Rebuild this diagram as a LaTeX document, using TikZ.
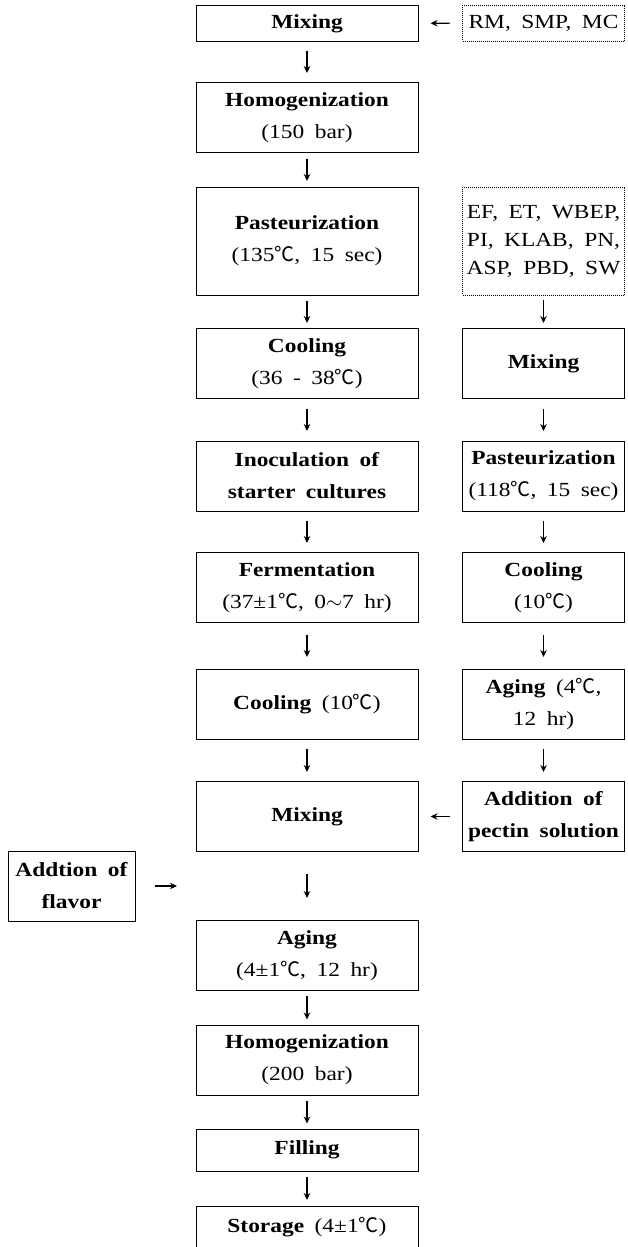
\documentclass[tikz,border=0pt]{standalone}
\usepackage{fontspec}
\setmainfont{Liberation Serif}[FakeStretch=1.17,WordSpace=1.8]
\newfontfamily\cjk{Noto Sans CJK KR}
\newcommand{\degc}{{\cjk ℃}}
\usetikzlibrary{arrows.meta}

\tikzset{
  box/.style={draw, line width=1pt, align=center, inner sep=1pt,
    font=\fontsize{20}{32}\selectfont},
  mainbox/.style={box, minimum width=222pt},
  sidebox/.style={box, minimum width=162pt},
  dotbox/.style={sidebox, densely dotted, line width=0.6pt},
  oneline/.style={minimum height=36pt},
  twoline/.style={minimum height=70pt},
  arr/.style={-{Stealth[length=7pt,width=6.5pt]}, line width=1.1pt},
  gap/.style={shorten <=#1, shorten >=#1},
}

\begin{document}
\begin{tikzpicture}[x=1pt, y=-1pt]
  \useasboundingbox (0,0) rectangle (627,1247);

  % Main line
  \node[mainbox, oneline] (mix1) at (307,23.5) {\textbf{Mixing}};
  \node[mainbox, twoline] (hom1) at (307,117.5) {\textbf{Homogenization}\\(150 bar)};
  \node[mainbox, minimum height=108pt] (past1) at (307,241) {\textbf{Pasteurization}\\(135\degc, 15 sec)};
  \node[mainbox, twoline] (cool1) at (307,363.5) {\textbf{Cooling}\\(36 - 38\degc)};
  \node[mainbox, twoline] (inoc) at (307,476) {\textbf{Inoculation of}\\\textbf{starter cultures}};
  \node[mainbox, twoline] (ferm) at (307,587.5) {\textbf{Fermentation}\\(37±1\degc, 0$\sim$7 hr)};
  \node[mainbox, twoline] (cool2) at (307,704) {\textbf{Cooling} (10\degc)};
  \node[mainbox, twoline] (mix2) at (307,816.5) {\textbf{Mixing}};
  \node[mainbox, twoline] (age2) at (307,955.5) {\textbf{Aging}\\(4±1\degc, 12 hr)};
  \node[mainbox, twoline] (hom2) at (307,1060) {\textbf{Homogenization}\\(200 bar)};
  \node[mainbox, minimum height=42pt] (fill) at (307,1150) {\textbf{Filling}};
  \node[mainbox, minimum height=42pt] (store) at (307,1227) {\textbf{Storage} (4±1\degc)};

  % Side line
  \node[dotbox, oneline] (rm) at (543.5,23) {RM, SMP, MC};
  \node[dotbox, minimum height=108pt, font=\fontsize{20}{28}\selectfont] (ef) at (543.5,241)
    {EF, ET, WBEP,\\PI, KLAB, PN,\\ASP, PBD, SW};
  \node[sidebox, twoline] (mixR) at (543.5,363.5) {\textbf{Mixing}};
  \node[sidebox, twoline] (pastR) at (543.5,476) {\textbf{Pasteurization}\\(118\degc, 15 sec)};
  \node[sidebox, twoline] (coolR) at (543.5,587.5) {\textbf{Cooling}\\(10\degc)};
  \node[sidebox, twoline] (ageR) at (543.5,704) {\textbf{Aging} (4\degc,\\12 hr)};
  \node[sidebox, twoline] (pectin) at (543.5,816.5) {\textbf{Addition of}\\\textbf{pectin solution}};

  % Flavor
  \node[box, minimum width=127pt, twoline] (flavor) at (71.5,886) {\textbf{Addtion of}\\\textbf{flavor}};
  \coordinate (flv) at (177,886);

  % Arrows
  \draw[arr, gap=9pt] (mix1) -- (hom1);
  \draw[arr, gap=5.5pt] (hom1) -- (past1);
  \draw[arr, gap=5pt] (past1) -- (cool1);
  \draw[arr, gap=9.5pt] (cool1) -- (inoc);
  \draw[arr, gap=9pt] (inoc) -- (ferm);
  \draw[arr, gap=11.5pt] (ferm) -- (cool2);
  \draw[arr, gap=9pt] (cool2) -- (mix2);
  \draw[arr, gap=22pt] (mix2) -- (age2);
  \draw[arr, gap=5pt] (age2) -- (hom2);
  \draw[arr, gap=5pt] (hom2) -- (fill);
  \draw[arr, gap=5.5pt] (fill) -- (store);

  \draw[arr, gap=5pt] (ef) -- (mixR);
  \draw[arr, gap=9.5pt] (mixR) -- (pastR);
  \draw[arr, gap=9pt] (pastR) -- (coolR);
  \draw[arr, gap=11.5pt] (coolR) -- (ageR);
  \draw[arr, gap=9pt] (ageR) -- (pectin);

  \draw[arr, gap=12pt] (rm) -- (mix1);
  \draw[arr, gap=12pt] (pectin) -- (mix2);
  \draw[arr, shorten <=19pt] (flavor) -- (flv);
\end{tikzpicture}
\end{document}
